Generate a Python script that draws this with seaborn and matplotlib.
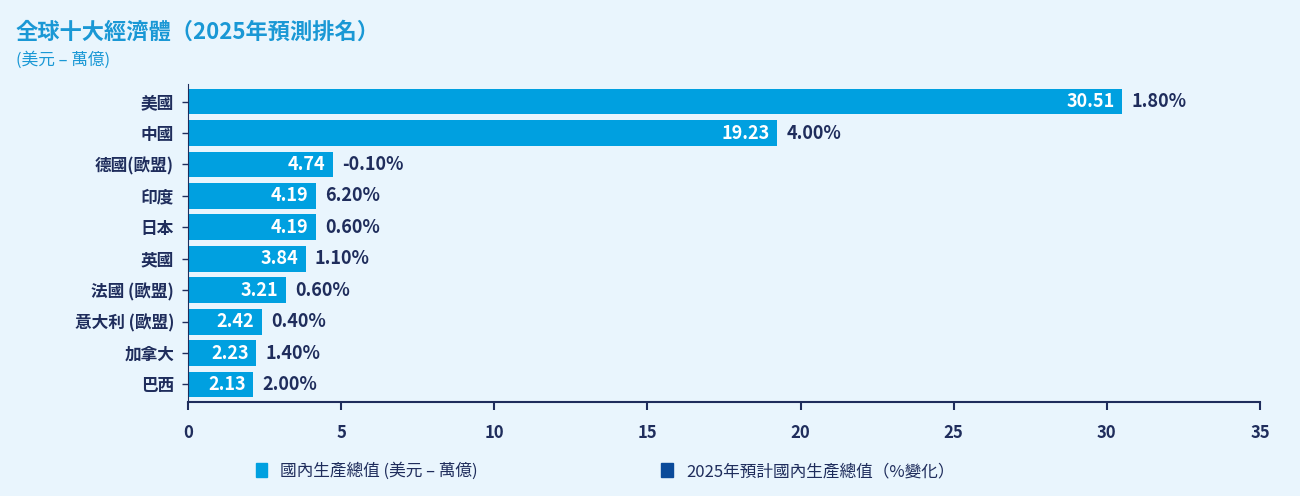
import matplotlib
matplotlib.use('Agg')
import matplotlib.pyplot as plt
from matplotlib import font_manager
import seaborn as sns
import pandas as pd
from matplotlib.patches import Patch

countries = ['美國', '中國', '德國(歐盟)', '印度', '日本', '英國', '法國 (歐盟)', '意大利 (歐盟)', '加拿大', '巴西']
gdp = [30.51, 19.23, 4.74, 4.19, 4.19, 3.84, 3.21, 2.42, 2.23, 2.13]
growth = ['1.80%', '4.00%', '-0.10%', '6.20%', '0.60%', '1.10%', '0.60%', '0.40%', '1.40%', '2.00%']
xticks = [0, 5, 10, 15, 20, 25, 30, 35]

BG = '#e9f5fd'
BAR = '#00a0e0'
NAVY = '#1f2d5c'
DARK = '#0a4a9a'
TITLE = '#1a98d5'

# pick whichever CJK family is actually registered
names = sorted({f.name for f in font_manager.fontManager.ttflist})
cjk = [n for n in ['Noto Sans CJK TC', 'Noto Sans CJK JP', 'Noto Sans CJK SC', 'Noto Sans CJK KR'] if n in names]
cjk += [n for n in names if 'CJK' in n and n not in cjk]
plt.rcParams['font.family'] = 'sans-serif'
plt.rcParams['font.sans-serif'] = cjk + ['DejaVu Sans']

df = pd.DataFrame({'country': countries, 'gdp': gdp})

fig = plt.figure(figsize=(13, 4.96), dpi=100, facecolor=BG)
ax = fig.add_axes([0.1446, 0.19, 0.8246, 0.64], facecolor=BG)
sns.barplot(data=df, x='gdp', y='country', color=BAR, saturation=1, width=0.82, ax=ax)

for i, (v, g) in enumerate(zip(gdp, growth)):
    ax.text(v - 0.25, i, f'{v:.2f}', ha='right', va='center', color='white',
            fontsize=13, fontweight='bold')
    ax.text(v + 0.3, i, g, ha='left', va='center', color=NAVY,
            fontsize=13, fontweight='bold')

ax.set_xlim(0, 35)
ax.set_ylim(9.55, -0.55)
ax.set_xticks(xticks)
ax.set_xticklabels([str(t) for t in xticks], fontsize=12, fontweight='bold', color=NAVY)
ax.tick_params(axis='x', length=6, width=1.5, color=NAVY, pad=10)
ax.tick_params(axis='y', length=4, width=1, color=NAVY, labelsize=12, labelcolor=NAVY, pad=6)
for lab in ax.get_yticklabels():
    lab.set_fontweight('bold')
ax.set_xlabel('')
ax.set_ylabel('')
for s in ['top', 'right']:
    ax.spines[s].set_visible(False)
ax.spines['left'].set_color(NAVY)
ax.spines['bottom'].set_color(NAVY)
ax.spines['bottom'].set_linewidth(1.5)

fig.text(0.012, 0.935, '全球十大經濟體（2025年預測排名）', fontsize=16, fontweight='bold', color=TITLE, va='center')
fig.text(0.012, 0.878, '(美元 – 萬億)', fontsize=12, color=TITLE, va='center')

handles = [Patch(color=BAR, label='國內生產總值 (美元 – 萬億)'),
           Patch(color=DARK, label='2025年預計國內生產總值（%變化）')]
leg = fig.legend(handles=handles, loc='center left', bbox_to_anchor=(0.185, 0.05), ncol=2,
                 frameon=False, fontsize=12, handlelength=0.7, handleheight=0.9,
                 columnspacing=11, labelcolor=NAVY)

fig.savefig('out.png', dpi=100, facecolor=BG)
